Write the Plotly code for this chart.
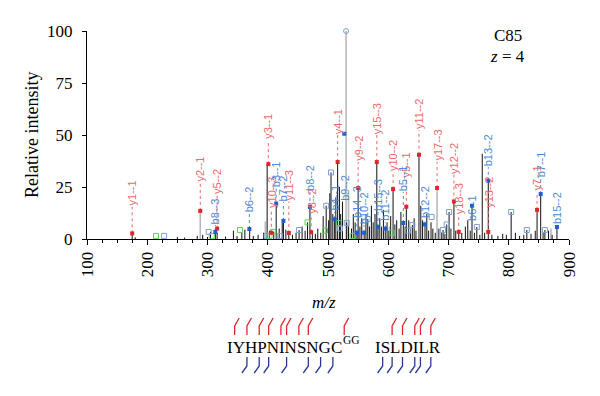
import plotly.graph_objects as go

# ---------------- data ----------------
black_mz = [175, 180, 250, 262, 283, 292, 300, 305, 313, 316, 330, 343, 349, 357, 362, 370, 376, 384, 393,
            399, 403, 410, 414, 419, 424, 426, 430, 435, 441, 447, 452, 457, 462, 466, 470, 474, 479, 483,
            488, 492, 497, 501, 503, 505, 508, 511, 513, 516, 519, 521, 524, 531, 534, 539, 542, 545, 548,
            550, 553, 556, 560, 563, 566, 569, 572, 575, 578, 581, 583, 586, 589, 592, 595, 598, 601, 604,
            608, 611, 614, 618, 621, 625, 628, 630, 634, 637, 640, 643, 646, 651, 654, 657, 661, 664, 667,
            671, 674, 678, 684, 688, 691, 694, 697, 701, 704, 709, 712, 717, 722, 728, 732, 736, 739, 743,
            747, 752, 756, 760, 766, 772, 782, 790, 796, 804, 811, 818, 825, 830, 837, 844, 847, 853, 857,
            860, 866, 872, 880]
black_int = [2.7, 0.8, 1.0, 0.7, 1.5, 2.0, 1.0, 3.5, 5.0, 3.0, 1.2, 4.0, 1.5, 3.0, 4.5, 4.8, 1.5, 2.0, 3.0,
             36, 4.0, 3.5, 17, 5, 7.7, 8.7, 4.5, 2.9, 2.0, 3.0, 4.3, 6, 4, 8, 15.4, 3.5, 2.5, 5,
             3.0, 11, 16, 9, 22, 32, 12, 9.5, 20, 37, 25, 12, 18, 8, 6, 5, 12, 8, 3,
             24.5, 6, 10, 3, 12, 9.6, 6, 16, 8, 12, 37, 5.8, 10, 6, 14, 5, 8, 4, 11,
             24, 7, 9, 5, 13, 7.7, 6, 15.5, 9, 5, 6.7, 10, 4, 40.5, 16, 9, 7, 12, 4,
             8, 5, 3, 5, 3, 4.3, 2.5, 7, 13, 5, 18, 4, 3.4, 3, 6, 9, 4, 16, 3,
             5.8, 2, 41, 3, 28, 2, 1.5, 2.5, 2, 13, 3, 1.5, 2, 4.3, 2.5, 4, 14, 21.6, 3,
             4.3, 4, 2, 5.8]

gray_mz = [288, 396, 530, 534, 681, 602, 870]
gray_int = [13.5, 8.5, 100, 22, 24.5, 6, 5]

y_mz = [175, 288, 316, 401, 406, 435, 472, 516, 550, 581, 608, 630, 651, 681, 709, 717, 766, 847]
y_int = [2.7, 13.5, 5.0, 36, 3.0, 2.9, 3.3, 37, 24.5, 37, 24, 15.5, 40.5, 24.5, 18, 3.4, 3.4, 14]
y_lab = ["y1--1", "y2--1", "y5--2", "y3--1", "y10--3", "y11--3", "y8--2", "y4--1", "y9--2", "y15--3",
         "y10--2", "y5--1", "y11--2", "y17--3", "y12--2", "y18--3", "y13--2", "y7--1"]

b_mz = [313, 369.5, 414, 426, 470, 511, 527, 548, 560, 583, 595, 625, 661, 739, 766, 853, 880]
b_int = [3.4, 4.8, 17, 8.7, 15.4, 9.5, 50.6, 3.0, 3.0, 5.8, 5.0, 7.7, 7.0, 16, 28, 21.6, 5.8]
b_lab = ["b8--3", "b6--2", "b3--1", "b7--2", "b8--2", "b4--1", "b9--2", "b14--3", "b10--2", "b15--3",
         "b11--2", "b5--1", "b12--2", "b6--1", "b13--2", "b7--1", "b15--2"]

other_mz = [228, 302, 398, 420, 452, 497, 505, 520, 531, 566, 633, 640, 672, 691, 697, 701, 747, 804, 830, 860]
other_int = [1.5, 3.4, 1.5, 1.5, 4.3, 16, 32, 5, 7.7, 9.6, 4, 6.7, 10.6, 4.3, 7, 13, 5.8, 13, 4.3, 4.3]

green_mz = [214.5, 307, 354, 403, 409, 466, 495, 518, 541, 606]
green_int = [1.5, 1.5, 4.3, 1.5, 3.4, 8, 4, 7.7, 1.5, 3]

base_mz = [530]
base_int = [100]

precursor_mz = [537]

sequence_1 = "IYHPNINSNGC"
modification = "GG"
sequence_2 = "ISLDILR"
y_sites = [1, 2, 3, 4, 5, 6, 7, 8, 11, 13, 14, 15, 16, 17]
b_sites = [2, 3, 4, 6, 8, 9, 10, 12, 13, 14, 15, 16, 17]

x_ticks = [100, 200, 300, 400, 500, 600, 700, 800, 900]
y_ticks = [0, 25, 50, 75, 100]

# ---------------- layout config (positions / styles) ----------------
y_label_base = [15.5, 27, 21, 47.6, 14.4, 18, 11.5, 50, 37, 50, 32, 29, 52.4, 37, 31, 11.5, 14.4, 22.6]
b_label_base = [6.7, 12.5, 24.5, 17.8, 22.6, 13, 18, 9.6, 6.7, 13, 8.2, 22.6, 9.6, 8.2, 34.6, 29, 6.7]

OFF = 8                      # page body margin of the html
W, H = 600 - OFF, 396 - OFF
PL, PR, PT, PB = 87, 569, 31, 239   # plot area in page pixels
ML, MR, MT, MB = PL - OFF, W - (PR - OFF), PT - OFF, H - (PB - OFF)
PW, PH = PR - PL, PB - PT

RED = "#e0262b"
RED_L = "#ec6a6a"
BLUE = "#1c5fd4"
BLUE_L = "#4d8ad8"
NAVY = "#2c3990"
SERIF = "Liberation Serif"
SANS = "Liberation Sans"


def px_x(px):
    return (px - PL) / PW


def px_y(py):
    return (PB - py) / PH


def stems(xs, ys):
    sx, sy = [], []
    for x, y in zip(xs, ys):
        sx += [x, x, None]
        sy += [0, y, None]
    return sx, sy


def dotted(xs, ys, bases):
    sx, sy = [], []
    for x, y, b in zip(xs, ys, bases):
        if b > y:
            sx += [x, x, None]
            sy += [y, b, None]
    return sx, sy


fig = go.Figure()

gx, gy = stems(gray_mz, gray_int)
fig.add_trace(go.Scatter(x=gx, y=gy, mode="lines", line=dict(color="#b9b9b9", width=1.6),
                         hoverinfo="skip", showlegend=False))
bx, by = stems(black_mz, black_int)
fig.add_trace(go.Scatter(x=bx, y=by, mode="lines", line=dict(color="#111111", width=1),
                         hoverinfo="skip", showlegend=False))

dx, dy = dotted(y_mz, y_int, y_label_base)
fig.add_trace(go.Scatter(x=dx, y=dy, mode="lines", line=dict(color=RED_L, width=1, dash="dot"),
                         hoverinfo="skip", showlegend=False))
dx, dy = dotted(b_mz, b_int, b_label_base)
fig.add_trace(go.Scatter(x=dx, y=dy, mode="lines", line=dict(color=BLUE_L, width=1, dash="dot"),
                         hoverinfo="skip", showlegend=False))

fig.add_trace(go.Scatter(x=other_mz, y=other_int, mode="markers", cliponaxis=False,
                         marker=dict(symbol="square-open", size=5, color="#7d9fd0", line=dict(width=1)),
                         hoverinfo="skip", showlegend=False))
fig.add_trace(go.Scatter(x=green_mz, y=green_int, mode="markers", cliponaxis=False,
                         marker=dict(symbol="square-open", size=5, color="#5ccf5c", line=dict(width=1)),
                         hoverinfo="skip", showlegend=False))
fig.add_trace(go.Scatter(x=base_mz, y=base_int, mode="markers", cliponaxis=False,
                         marker=dict(symbol="circle-open", size=5, color="#7d9fd0", line=dict(width=1)),
                         hoverinfo="skip", showlegend=False))
fig.add_trace(go.Scatter(x=y_mz, y=y_int, mode="markers", cliponaxis=False,
                         marker=dict(symbol="square", size=4, color=RED),
                         hoverinfo="skip", showlegend=False))
fig.add_trace(go.Scatter(x=b_mz, y=b_int, mode="markers", cliponaxis=False,
                         marker=dict(symbol="square", size=4, color=BLUE),
                         hoverinfo="skip", showlegend=False))
fig.add_trace(go.Scatter(x=precursor_mz, y=[-2.2], mode="markers", cliponaxis=False,
                         marker=dict(symbol="triangle-up", size=7, color="#1f9a46"),
                         hoverinfo="skip", showlegend=False))
fig.add_trace(go.Scatter(x=[92], y=[0], mode="markers", cliponaxis=False,
                         marker=dict(symbol="triangle-right", size=6, color="#111111"),
                         hoverinfo="skip", showlegend=False))

annotations = []
for x, b, t in zip(y_mz, y_label_base, y_lab):
    annotations.append(dict(x=x, y=b, xref="x", yref="y", text=t, showarrow=False, textangle=-90,
                            xanchor="center", yanchor="bottom", borderpad=0,
                            font=dict(family=SANS, size=11, color=RED_L)))
for x, b, t in zip(b_mz, b_label_base, b_lab):
    annotations.append(dict(x=x, y=b, xref="x", yref="y", text=t, showarrow=False, textangle=-90,
                            xanchor="center", yanchor="bottom", borderpad=0,
                            font=dict(family=SANS, size=11, color=BLUE_L)))

annotations += [
    dict(x=px_x(508), y=px_y(35), xref="paper", yref="paper", text="C85", showarrow=False,
         xanchor="center", yanchor="middle", font=dict(family=SERIF, size=17, color="black")),
    dict(x=px_x(507), y=px_y(56), xref="paper", yref="paper", text="<i>z</i> = 4", showarrow=False,
         xanchor="center", yanchor="middle", font=dict(family=SERIF, size=17, color="black")),
    dict(x=px_x(324), y=px_y(302), xref="paper", yref="paper", text="<i>m/z</i>", showarrow=False,
         xanchor="center", yanchor="middle", font=dict(family=SERIF, size=17, color="black")),
    dict(x=px_x(32), y=px_y(135), xref="paper", yref="paper", text="Relative intensity",
         showarrow=False, textangle=-90, xanchor="center", yanchor="middle",
         font=dict(family=SERIF, size=18, color="black")),
]

# peptide sequence
FS = 17
widths = dict(I=333, Y=722, H=722, P=556, N=722, S=556, G=722, C=667, L=611, D=722, R=667)
seg1_left, seg2_left, seq_mid = 226, 374, 347
annotations.append(dict(x=px_x(seg1_left), y=px_y(seq_mid), xref="paper", yref="paper",
                        text=sequence_1, showarrow=False, xanchor="left", yanchor="middle", borderpad=0,
                        font=dict(family=SERIF, size=FS, color="black")))
seg1_w = sum(widths[c] for c in sequence_1) * FS / 1000
annotations.append(dict(x=px_x(seg1_left + seg1_w + 1), y=px_y(seq_mid - 7), xref="paper", yref="paper",
                        text=modification, showarrow=False, xanchor="left", yanchor="middle", borderpad=0,
                        font=dict(family=SERIF, size=11.5, color="black")))
annotations.append(dict(x=px_x(seg2_left), y=px_y(seq_mid), xref="paper", yref="paper",
                        text=sequence_2, showarrow=False, xanchor="left", yanchor="middle", borderpad=0,
                        font=dict(family=SERIF, size=FS, color="black")))


def site_px(k):
    n1 = len(sequence_1)
    if k <= n1:
        return seg1_left + sum(widths[c] for c in sequence_1[:k]) * FS / 1000 + 3
    return seg2_left + sum(widths[c] for c in sequence_2[:k - n1]) * FS / 1000 + 3


shapes = []
for k in y_sites:
    x0 = site_px(k)
    path = "M {} {} L {} {} L {} {}".format(px_x(x0), px_y(335), px_x(x0), px_y(326),
                                           px_x(x0 + 4.5), px_y(318))
    shapes.append(dict(type="path", path=path, xref="paper", yref="paper",
                       line=dict(color=RED, width=1.3)))
for k in b_sites:
    x0 = site_px(k)
    path = "M {} {} L {} {} L {} {}".format(px_x(x0), px_y(357), px_x(x0), px_y(366),
                                           px_x(x0 - 5), px_y(373))
    shapes.append(dict(type="path", path=path, xref="paper", yref="paper",
                       line=dict(color=NAVY, width=1.3)))

fig.update_layout(
    width=W, height=H,
    margin=dict(l=ML, r=MR, t=MT, b=MB),
    paper_bgcolor="white", plot_bgcolor="white",
    annotations=annotations, shapes=shapes,
    xaxis=dict(range=[100, 900], tickvals=x_ticks, ticktext=[str(v) for v in x_ticks],
               tickangle=-90, showgrid=False, zeroline=False, showline=True, linecolor="black",
               linewidth=1, ticks="outside", ticklen=5, tickcolor="black",
               minor=dict(dtick=25, ticks="outside", ticklen=3, tickcolor="black"),
               tickfont=dict(family=SERIF, size=17, color="black")),
    yaxis=dict(range=[0, 100], tickvals=y_ticks, showgrid=False, zeroline=False, showline=True,
               linecolor="black", linewidth=1, ticks="outside", ticklen=4, tickcolor="black",
               ticklabelstandoff=6,
               tickfont=dict(family=SERIF, size=17, color="black")),
)

fig.write_html("out.html")
